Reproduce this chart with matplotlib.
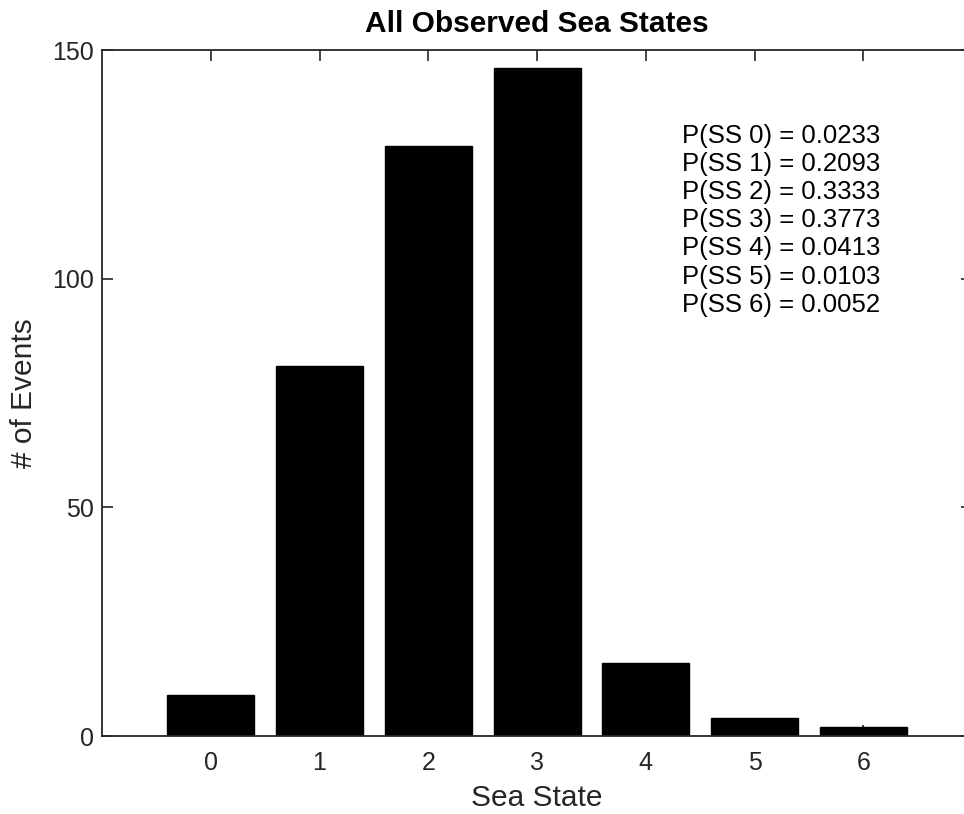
import numpy as np
import matplotlib.pyplot as plt

sea_state = [0, 1, 2, 3, 4, 5, 6]
events = [9, 81, 129, 146, 16, 4, 2]
probs = ["0.0233", "0.2093", "0.3333", "0.3773", "0.0413", "0.0103", "0.0052"]

grey = '#262626'
plt.rcParams['font.family'] = ['Liberation Sans', 'DejaVu Sans']


def main():
    fig = plt.figure(figsize=(9.64, 8.14), dpi=100)
    ax = fig.add_axes([102/964, 78/814, 870/964, 686/814])

    ax.bar(sea_state, events, width=0.8, color='black', edgecolor='black')
    ax.set_axisbelow(True)
    ax.set_xlim(-1, 7)
    ax.set_ylim(0, 150)
    ax.set_xticks(sea_state)
    ax.set_yticks([0, 50, 100, 150])

    for s in ax.spines.values():
        s.set_color(grey)
        s.set_linewidth(1.3)
    ax.tick_params(direction='in', top=True, right=True, length=8,
                   width=1.2, color=grey, labelcolor=grey, labelsize=18)
    ax.tick_params(axis='x', pad=11)
    ax.tick_params(axis='y', pad=6)

    ax.set_title('All Observed Sea States', fontsize=21.5, fontweight='bold',
                 color='black', pad=13)
    ax.set_xlabel('Sea State', fontsize=21.5, color=grey, labelpad=6)
    ax.set_ylabel('# of Events', fontsize=21.5, color=grey, labelpad=10)

    lines = ['P(SS %d) = %s' % (s, p) for s, p in zip(sea_state, probs)]
    ax.text(4.33, 133.8, '\n'.join(lines), fontsize=18.5, color='black',
            va='top', ha='left', linespacing=1.215)

    fig.savefig('out.png', dpi=100)


if __name__ == "__main__":
    main()
